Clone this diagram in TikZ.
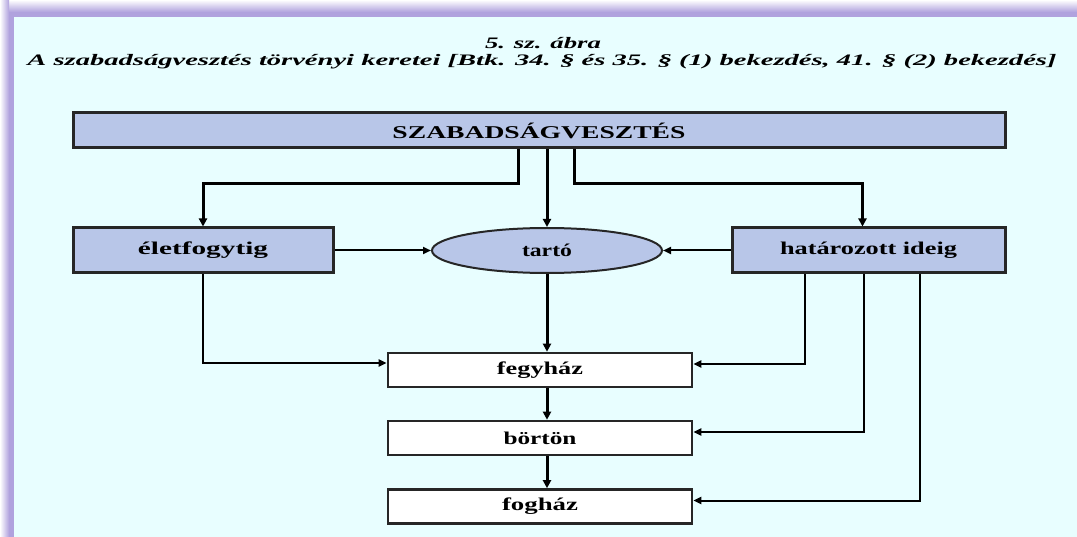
\documentclass[tikz,border=0pt]{standalone}
\usepackage{fontspec}
\setmainfont{Liberation Serif}
\usepackage{graphicx}
\usetikzlibrary{arrows.meta,shapes.geometric}

\definecolor{paper}{RGB}{232,254,255}
\definecolor{lilac}{RGB}{176,162,222}
\definecolor{boxblue}{RGB}{184,198,232}
\newcommand\fitw[2]{\resizebox{#1}{\height}{#2}}

\begin{document}
\begin{tikzpicture}[x=1pt,y=-1pt,
  box/.style={draw=black!85,line width=3pt,fill=boxblue,inner sep=0pt,font=\bfseries\fontsize{18}{20}\selectfont},
  cell/.style={draw=black!85,line width=2.6pt,fill=white,minimum width=304pt,minimum height=34pt,inner sep=0pt,font=\bfseries\fontsize{18}{20}\selectfont},
  link/.style={line width=3pt,-{Triangle[length=8pt,width=8pt]}},
  feed/.style={line width=2pt,-{Triangle[length=8pt,width=7pt]}}]
  \useasboundingbox (0,0) rectangle (1077,537);
  \fill[lilac] (0,0) rectangle (1077,537);
  \shade[top color=white,bottom color=lilac] (0,0) rectangle (1077,12);
  \shade[left color=white,right color=lilac] (0,0) rectangle (9,537);
  \fill[paper] (14,17) rectangle (1077,537);

  \node (num) at (543,43) {\bfseries\itshape\fontsize{16}{18}\selectfont\fitw{116pt}{5. sz. ábra}};
  \node (title) at (542,62) {\bfseries\itshape\fontsize{16}{18}\selectfont\fitw{1029pt}{A szabadságvesztés törvényi keretei [Btk. 34. § és 35. § (1) bekezdés, 41. § (2) bekezdés]}};

  \node[box,minimum width=932pt,minimum height=35pt] (szab) at (539,130.5) {\fitw{293pt}{SZABADSÁGVESZTÉS}};
  \node[box,minimum width=260pt,minimum height=45pt] (elet) at (203,250.5) {\fitw{130pt}{életfogytig}};
  \node[box,ellipse,line width=2pt,minimum width=230pt,minimum height=45pt] (tarto) at (547,250.5) {\fitw{50pt}{tartó}};
  \node[box,minimum width=273pt,minimum height=45pt] (hat) at (868.5,250.5) {\fitw{177pt}{határozott ideig}};

  \node[cell] (fegy) at (540,370) {\fitw{86pt}{fegyház}};
  \node[cell] (bort) at (540,438) {\fitw{73pt}{börtön}};
  \node[cell] (fogh) at (540,506.5) {\fitw{76pt}{fogház}};

  \draw[link] ([xshift=-21pt]szab.south) -- ++(0,34) -| (elet.north);
  \draw[link] (tarto.north |- szab.south) -- (tarto.north);
  \draw[link] ([xshift=35pt]szab.south) -- ++(0,34) -| ([xshift=-6pt]hat.north);

  \draw[feed] (elet) -- (tarto);
  \draw[feed] (hat) -- (tarto);

  \draw[feed] (elet.south) |- ([yshift=7pt]fegy.west);
  \draw[link] (tarto.south) -- (tarto.south |- fegy.north);
  \draw[link] (tarto.south |- fegy.south) -- (tarto.south |- bort.north);
  \draw[link] (tarto.south |- bort.south) -- (tarto.south |- fogh.north);

  \draw[feed] ([xshift=-64pt]hat.south) |- ([yshift=6pt]fegy.east);
  \draw[feed] ([xshift=-5pt]hat.south) |- ([yshift=6pt]bort.east);
  \draw[feed] ([xshift=51pt]hat.south) |- ([yshift=6pt]fogh.east);
\end{tikzpicture}
\end{document}
